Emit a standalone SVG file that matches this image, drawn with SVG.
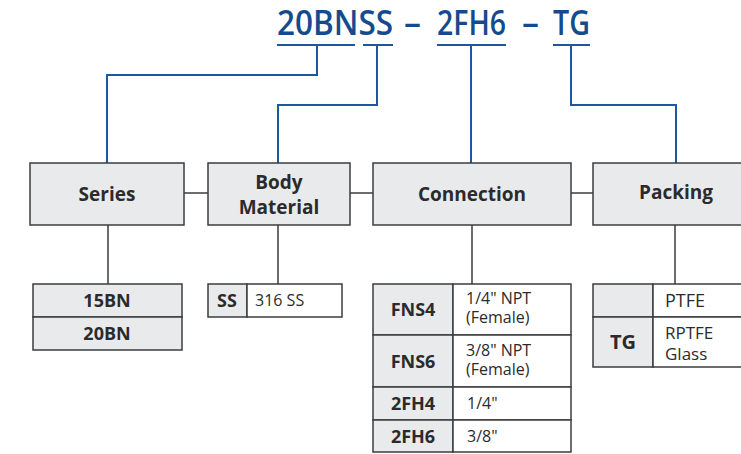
<svg xmlns="http://www.w3.org/2000/svg" width="741" height="454" viewBox="0 0 741 454">
<style>
.title{font-family:"Open Sans","Noto Sans",sans-serif;font-size:34px;font-weight:600;fill:#154b8c}
.blue{fill:none;stroke:#1c57a0;stroke-width:2}
.gl{fill:none;stroke:#3c3c3c;stroke-width:1.5}
.box{fill:#e9eaec;stroke:#3c3c3c;stroke-width:1.5}
.cell{fill:#ffffff;stroke:#3c3c3c;stroke-width:1.5}
.hd{font-family:"Open Sans","Noto Sans",sans-serif;font-weight:700;font-size:19px;fill:#2b2b2b;text-anchor:middle}
.b{font-family:"Open Sans","Noto Sans",sans-serif;font-weight:700;font-size:18px;fill:#2b2b2b;text-anchor:middle}
.r{font-family:"Open Sans","Noto Sans",sans-serif;font-size:16px;fill:#2b2b2b}
</style>
<g id="title">
<text class="title" x="277" y="35" textLength="116" lengthAdjust="spacingAndGlyphs">20BNSS</text>
<text class="title" x="404" y="35" textLength="17" lengthAdjust="spacingAndGlyphs">–</text>
<text class="title" x="437" y="35" textLength="69" lengthAdjust="spacingAndGlyphs">2FH6</text>
<text class="title" x="522" y="35" textLength="17" lengthAdjust="spacingAndGlyphs">–</text>
<text class="title" x="553" y="35" textLength="37" lengthAdjust="spacingAndGlyphs">TG</text>
</g>
<g id="connectors">
<path class="blue" d="M277 45H355M363 45H393M437 45H506M553 45H590"/>
<path class="blue" d="M317 45V75H107V163"/>
<path class="blue" d="M377 45V105H278V163"/>
<path class="blue" d="M471 45V163"/>
<path class="blue" d="M571 45V105H676V163"/>
<path class="gl" d="M184 193H208M350 193H373M571 193H593"/>
<path class="gl" d="M108 225V284M278 225V284M472 225V284M675 225V284"/>
</g>
<g id="series">
<rect class="box" x="30" y="163" width="154" height="62"/>
<text class="hd" x="107" y="201">Series</text>
</g>
<g id="body-material">
<rect class="box" x="208" y="163" width="142" height="62"/>
<text class="hd" x="279" y="189">Body</text>
<text class="hd" x="279" y="214">Material</text>
</g>
<g id="connection">
<rect class="box" x="373" y="163" width="198" height="62"/>
<text class="hd" x="472" y="201">Connection</text>
</g>
<g id="packing">
<rect class="box" x="593" y="163" width="160" height="62"/>
<text class="hd" x="676" y="199">Packing</text>
</g>
<g id="series-table">
<rect class="box" x="33" y="284" width="149" height="33"/>
<rect class="box" x="33" y="317" width="149" height="33"/>
<text class="b" x="107" y="307">15BN</text>
<text class="b" x="107" y="340">20BN</text>
</g>
<g id="body-table">
<rect class="box" x="208" y="284" width="39" height="33"/>
<rect class="cell" x="247" y="284" width="95" height="33"/>
<text class="b" x="227" y="307">SS</text>
<text class="r" x="255" y="306">316 SS</text>
</g>
<g id="connection-table">
<rect class="box" x="373" y="284" width="80" height="51"/>
<rect class="cell" x="453" y="284" width="118" height="51"/>
<rect class="box" x="373" y="335" width="80" height="52"/>
<rect class="cell" x="453" y="335" width="118" height="52"/>
<rect class="box" x="373" y="387" width="80" height="33"/>
<rect class="cell" x="453" y="387" width="118" height="33"/>
<rect class="box" x="373" y="420" width="80" height="32"/>
<rect class="cell" x="453" y="420" width="118" height="32"/>
<text class="b" x="413" y="316">FNS4</text>
<text class="r" x="466" y="304">1/4" NPT</text>
<text class="r" x="466" y="323">(Female)</text>
<text class="b" x="413" y="368">FNS6</text>
<text class="r" x="466" y="356">3/8" NPT</text>
<text class="r" x="466" y="375">(Female)</text>
<text class="b" x="413" y="410">2FH4</text>
<text class="r" x="467" y="409">1/4"</text>
<text class="b" x="413" y="443">2FH6</text>
<text class="r" x="467" y="442">3/8"</text>
</g>
<g id="packing-table">
<rect class="box" x="593" y="284" width="60" height="33"/>
<rect class="cell" x="653" y="284" width="100" height="33"/>
<rect class="box" x="593" y="317" width="60" height="50"/>
<rect class="cell" x="653" y="317" width="100" height="50"/>
<text class="r" x="665" y="307" style="font-size:18px">PTFE</text>
<text class="b" x="623" y="349" style="font-size:20px">TG</text>
<text class="r" x="665" y="339" style="font-size:17px">RPTFE</text>
<text class="r" x="665" y="360" style="font-size:17px">Glass</text>
</g>
</svg>
